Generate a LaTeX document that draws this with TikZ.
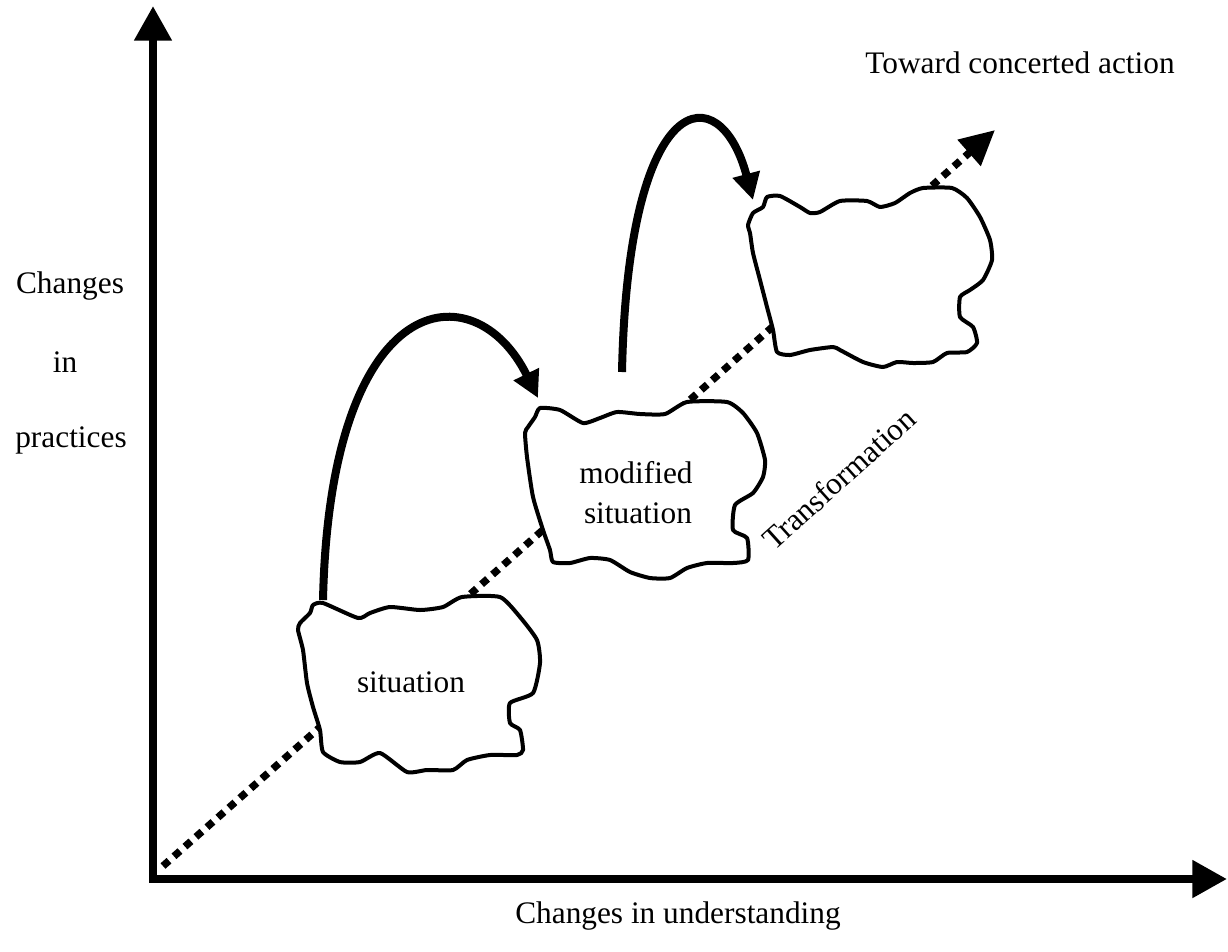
\documentclass[tikz,border=0pt]{standalone}
\usepackage{fontspec}
\setmainfont{Liberation Serif}
\usetikzlibrary{arrows.meta}
\begin{document}
\begin{tikzpicture}[x=0.75pt,y=-0.75pt,
  axis/.style={line width=6pt, line join=miter},
  blob/.style={line width=3pt, fill=white, line join=round},
  jump/.style={line width=6pt, -{Triangle[length=20pt,width=20pt]}},
  trail/.style={line width=5.5pt, dash pattern=on 6pt off 5pt},
  lbl/.style={font=\fontsize{23.5}{28}\selectfont, inner sep=0pt}]
\useasboundingbox (0,0) rectangle (1228,951);

% axes
\coordinate (O) at (153,879);
\coordinate (ytip) at (153,6);
\coordinate (xtip) at (1227,879);
\draw[axis, {Triangle[length=26pt,width=27pt]}-{Triangle[length=26pt,width=27pt]}] (ytip) |- (xtip);

% transformation trail
\coordinate (t0) at (163,866);
\coordinate (t1) at (995,130);
\draw[trail, -{Triangle[length=26pt,width=25pt]}] (t0) -- (t1);

% situation
\draw[blob] plot[smooth cycle, tension=0.35] coordinates {
  (313,605) (323,603) (358,618) (370,613) (390,607) (420,610) (443,607)
  (462,597) (500,597) (520,617) (537,640) (540,663) (533,693) (510,703)
  (510,723) (520,730) (523,750) (517,755) (490,755) (467,760) (453,770)
  (427,770) (407,772) (380,753) (360,762) (340,762) (323,752) (320,730)
  (313,707) (307,683) (303,650) (298,630) (300,623) (310,613)};

% modified situation
\draw[blob] plot[smooth cycle, tension=0.35] coordinates {
  (540,408) (560,410) (583,423) (600,418) (617,412) (640,414) (665,414)
  (687,402) (727,402) (743,413) (757,433) (765,460) (763,477) (753,493)
  (735,505) (733,530) (747,538) (748,560) (733,563) (707,563) (687,568)
  (670,578) (650,578) (630,572) (610,560) (590,558) (570,563) (553,562)
  (550,550) (543,530) (533,497) (527,457) (525,433) (528,427) (535,417)};

% third situation
\draw[blob] plot[smooth cycle, tension=0.35] coordinates {
  (767,197) (780,196) (800,207) (810,213) (820,212) (840,201) (867,201)
  (880,207) (895,203) (910,193) (923,188) (952,188) (967,198) (980,217)
  (990,240) (992,260) (983,280) (970,290) (960,297) (960,317) (973,327)
  (977,343) (967,352) (947,353) (933,362) (913,363) (897,362) (883,367)
  (863,362) (840,350) (833,347) (810,350) (790,355) (777,352) (773,330)
  (767,307) (760,280) (753,253) (750,233) (748,225) (753,213) (763,207)};

% jumps between situations
\coordinate (a1s) at (323,600);
\coordinate (a1e) at (538,398);
\draw[jump] (a1s) .. controls (330,285) and (475,270) .. (a1e);
\coordinate (a2s) at (622,372);
\coordinate (a2e) at (753,200);
\draw[jump] (a2s) .. controls (628,85) and (720,75) .. (a2e);

% labels
\node[lbl, anchor=base] (goal) at (1020,73) {Toward concerted action};
\node[lbl, anchor=base] (ylab1) at (70,293) {Changes};
\node[lbl, anchor=base] (ylab2) at (65,372) {in};
\node[lbl, anchor=base] (ylab3) at (71,447) {practices};
\node[lbl, anchor=base] (xlab) at (678,923) {Changes in understanding};
\node[lbl, anchor=base] (s1) at (411,692) {situation};
\node[lbl, anchor=base] (s2a) at (636,483) {modified};
\node[lbl, anchor=base] (s2b) at (638,523) {situation};
\node[lbl, anchor=base, rotate=42] (tr) at (846,487) {Transformation};
\end{tikzpicture}
\end{document}
